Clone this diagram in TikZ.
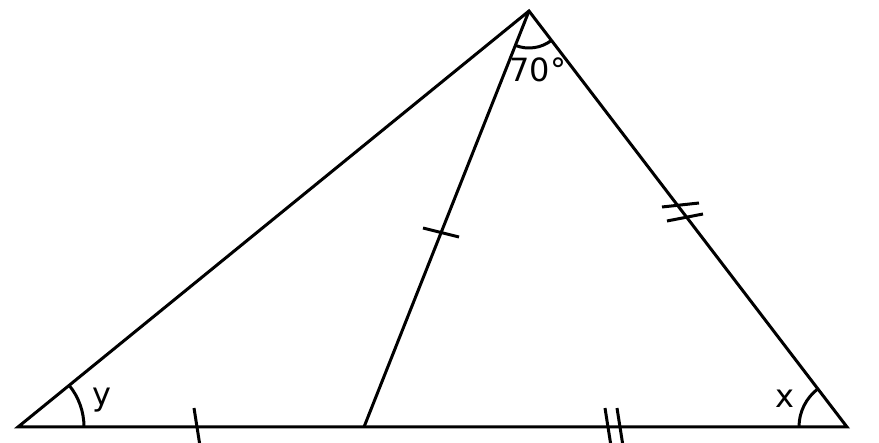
\documentclass[tikz,border=0pt]{standalone}
\usepackage{fontspec}
\setmainfont{DejaVu Sans}
\usetikzlibrary{angles}
\begin{document}
\begin{tikzpicture}[x=0.5pt,y=-0.5pt]
        \tikzstyle{side}=[line width=1.5pt]
        \tikzstyle{hashmark}=[line width=1.5pt]
        \tikzstyle{anglemark}=[draw,line width=1.5pt]
        \tikzstyle{anglelabel}=[font=\fontsize{16}{19}\selectfont,inner sep=0pt]

        \useasboundingbox (0,0) rectangle (879,443);

        \coordinate (A) at (18,427);
        \coordinate (B) at (529,11);
        \coordinate (C) at (847,427);
        \coordinate (D) at (364,427);

        \draw[side] (A) -- (B) -- (C) -- cycle;
        \draw[side] (B) -- (D);

        % angle marks
        \pic[anglemark,angle radius=18.5pt]{angle=D--B--C};
        \pic[anglemark,angle radius=33pt]{angle=C--A--B};
        \pic[anglemark,angle radius=24pt]{angle=B--C--A};

        \node(top)[anglelabel] at (538,70) {70°};
        \node(y)[anglelabel,anchor=base] at (102,406) {y};
        \node(x)[anglelabel,anchor=base] at (785,408) {x};

        % equal lengths
        \draw[hashmark] (194,408) -- (200,446);
        \draw[hashmark] (423,228) -- (459,237);
        \draw[hashmark] (605,408) -- (611,446);
        \draw[hashmark] (617,408) -- (623,446);
        \draw[hashmark] (662,207) -- (699,203);
        \draw[hashmark] (667,221) -- (703,214);
    \end{tikzpicture}
\end{document}
